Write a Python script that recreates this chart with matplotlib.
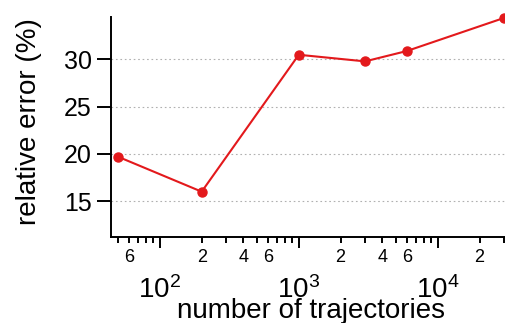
import numpy as np
import matplotlib
matplotlib.use("Agg")
import matplotlib.pyplot as plt
from matplotlib.ticker import LogLocator, FuncFormatter

plt.rcParams["font.family"] = ["Liberation Sans", "DejaVu Sans"]
plt.rcParams["mathtext.fontset"] = "custom"
plt.rcParams["mathtext.rm"] = "Liberation Sans"

# data
n_traj = [50, 200, 1000, 3000, 6000, 30000]
rel_err = [19.7, 16.0, 30.5, 29.8, 30.9, 34.4]
y_ticks = [15, 20, 25, 30]
minor_labelled = [2, 4, 6]

fig = plt.figure(figsize=(5.05, 3.23), dpi=100)
ax = fig.add_axes([111 / 505, (323 - 237) / 323, 394 / 505, 220 / 323])

ax.plot(n_traj, rel_err, color="#e3191c", lw=1.5, marker="o", ms=6.5,
        clip_on=False, zorder=3)

ax.set_xscale("log")
ax.set_xlim(44.5, 30500)
ax.set_ylim(11.2, 34.5)

# grid
ax.set_yticks(y_ticks)
ax.yaxis.grid(True, ls=(0, (1.5, 2.5)), color="#b0b0b0", lw=0.8)
ax.set_axisbelow(True)

for s in ["top", "right"]:
    ax.spines[s].set_visible(False)
for s in ["left", "bottom"]:
    ax.spines[s].set_linewidth(1.4)

# x ticks
ax.xaxis.set_major_locator(LogLocator(base=10, numticks=10))
ax.xaxis.set_minor_locator(LogLocator(base=10, subs=np.arange(2, 10), numticks=20))


def major_fmt(x, pos):
    e = int(round(np.log10(x)))
    return r"$\mathregular{10^{%d}}$" % e


def minor_fmt(x, pos):
    m = x / 10 ** np.floor(np.log10(x) + 1e-9)
    m = int(round(m))
    return str(m) if m in minor_labelled else ""


ax.xaxis.set_major_formatter(FuncFormatter(major_fmt))
ax.xaxis.set_minor_formatter(FuncFormatter(minor_fmt))
ax.tick_params(axis="x", which="major", length=8, width=1.4, pad=20, labelsize=20)
ax.tick_params(axis="x", which="minor", length=4, width=1.4, pad=5, labelsize=13)
ax.tick_params(axis="y", which="major", length=10, width=1.4, pad=4, labelsize=18)

ax.set_xlabel("number of trajectories", fontsize=20)
ax.xaxis.set_label_coords(0.5 + 3 / 394, -0.275)
ax.set_ylabel("relative error (%)", fontsize=20)
ax.yaxis.set_label_coords(-0.175, 0.525)

fig.savefig("out.png", dpi=100)
